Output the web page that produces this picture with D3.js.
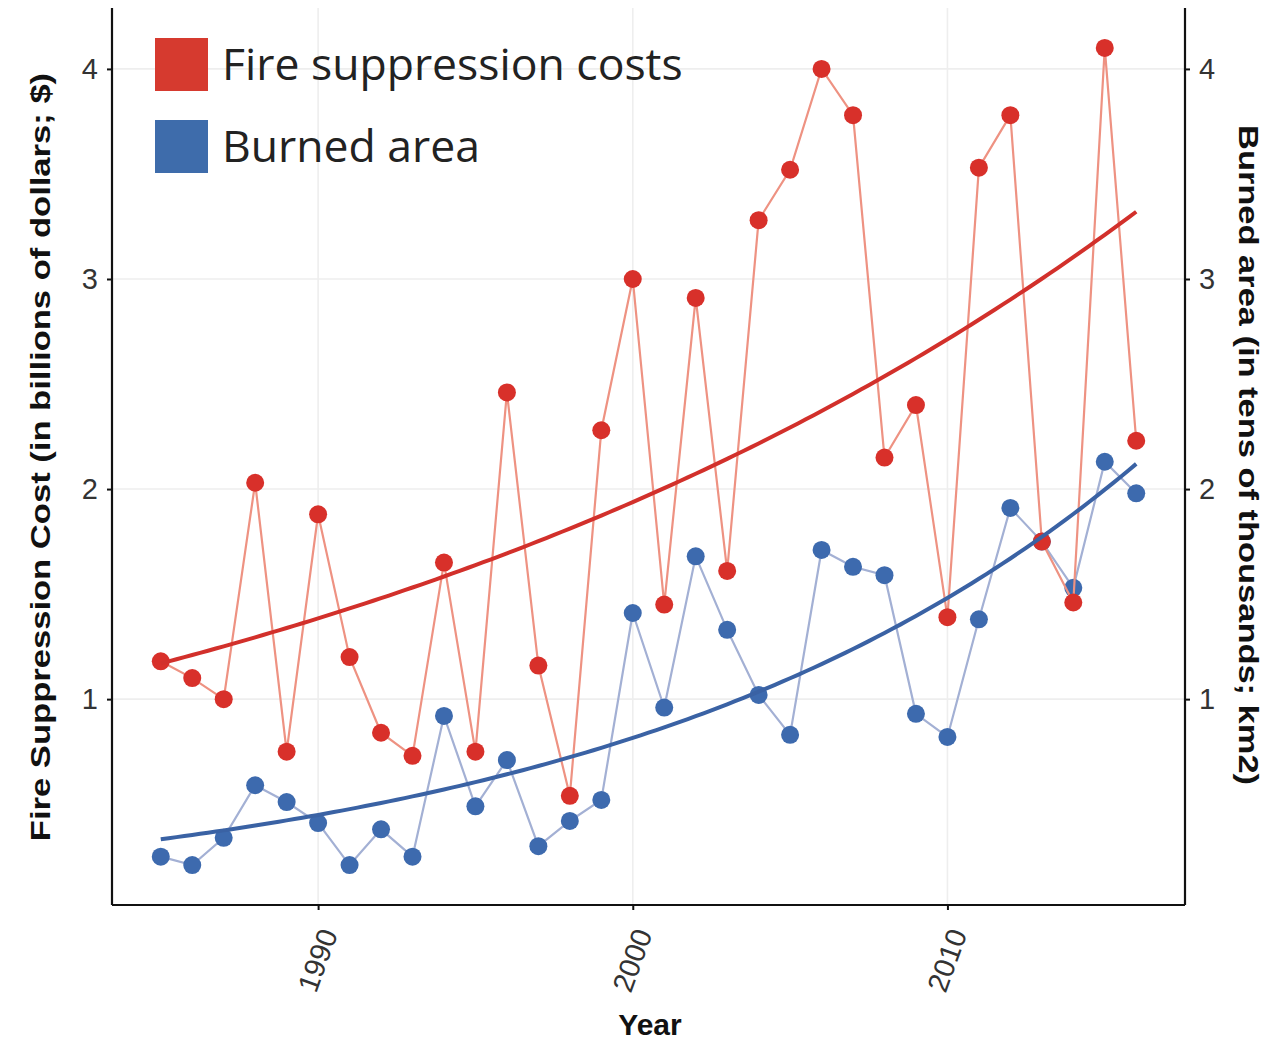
<!DOCTYPE html>
<html><head><meta charset="utf-8">
<script src="https://cdn.jsdelivr.net/npm/d3@7"></script>
<style>body{margin:0;background:#fff}svg{display:block}</style>
</head><body>
<script>
const years = [1985,1986,1987,1988,1989,1990,1991,1992,1993,1994,1995,1996,1997,1998,1999,2000,2001,2002,2003,2004,2005,2006,2007,2008,2009,2010,2011,2012,2013,2014,2015,2016];
const costs = [1.18,1.10,1.00,2.03,0.75,1.88,1.20,0.84,0.73,1.65,0.75,2.46,1.16,0.54,2.28,3.00,1.45,2.91,1.61,3.28,3.52,4.00,3.78,2.15,2.40,1.39,3.53,3.78,1.75,1.46,4.10,2.23];
const burned = [0.25,0.21,0.34,0.59,0.51,0.41,0.21,0.38,0.25,0.92,0.49,0.71,0.30,0.42,0.52,1.41,0.96,1.68,1.33,1.02,0.83,1.71,1.63,1.59,0.93,0.82,1.38,1.91,1.75,1.53,2.13,1.98];
// exponential trend fits: value at first and last year
const costTrend = [1.17, 3.32];
const burnedTrend = [0.333, 2.12];
const xTicks = [1990, 2000, 2010];
const yTicks = [1, 2, 3, 4];
const legendLabels = ["Fire suppression costs", "Burned area"];

const W = 1286, H = 1041;
const L = 112, R = 1185, T = 8, B = 905;
const svg = d3.select("body").append("svg").attr("width", W).attr("height", H);

const x = d3.scaleLinear().domain([1983.45, 2017.55]).range([L, R]);
const y = d3.scaleLinear().domain([0.02, 4.29]).range([B, T]);

// grid
svg.append("g").selectAll("line.h").data(yTicks).join("line")
  .attr("x1", L).attr("x2", R).attr("y1", d => y(d)).attr("y2", d => y(d))
  .attr("stroke", "#eeeeee").attr("stroke-width", 1.6);
svg.append("g").selectAll("line.v").data(xTicks).join("line")
  .attr("y1", T).attr("y2", B).attr("x1", d => x(d)).attr("x2", d => x(d))
  .attr("stroke", "#eeeeee").attr("stroke-width", 1.6);

function trend(v) {
  const y0 = years[0], y1 = years[years.length - 1];
  const k = Math.log(v[1] / v[0]) / (y1 - y0);
  const pts = [];
  for (let t = y0; t <= y1 + 1e-9; t += 0.25) pts.push([t, v[0] * Math.exp(k * (t - y0))]);
  return pts;
}
const line = d3.line().x(d => x(d[0])).y(d => y(d[1]));

const series = [
  {vals: burned, lc: "#a3b0d4", pc: "#3d6aae"},
  {vals: costs, lc: "#ee9282", pc: "#d8302a"}
];
series.forEach(s => {
  const data = years.map((yr, i) => [yr, s.vals[i]]);
  svg.append("path").datum(data).attr("d", line).attr("fill", "none")
    .attr("stroke", s.lc).attr("stroke-width", 2.2);
  svg.append("g").selectAll("circle").data(data).join("circle")
    .attr("cx", d => x(d[0])).attr("cy", d => y(d[1])).attr("r", 9).attr("fill", s.pc);
});

svg.append("path").datum(trend(costTrend)).attr("d", line).attr("fill", "none")
  .attr("stroke", "#d2302b").attr("stroke-width", 4);
svg.append("path").datum(trend(burnedTrend)).attr("d", line).attr("fill", "none")
  .attr("stroke", "#3a62a4").attr("stroke-width", 4);

// axes
const axisColor = "#111";
const gl = svg.append("g").attr("transform", `translate(${L},0)`)
  .call(d3.axisLeft(y).tickValues(yTicks).tickFormat(d3.format("d")).tickSize(5).tickPadding(9));
const gr = svg.append("g").attr("transform", `translate(${R},0)`)
  .call(d3.axisRight(y).tickValues(yTicks).tickFormat(d3.format("d")).tickSize(5).tickPadding(9));
const gb = svg.append("g").attr("transform", `translate(0,${B})`)
  .call(d3.axisBottom(x).tickValues(xTicks).tickFormat(d3.format("d")).tickSize(5).tickPadding(8));
[gl, gr, gb].forEach(g => {
  g.select(".domain").attr("stroke", axisColor).attr("stroke-width", 2.2);
  g.selectAll(".tick line").attr("stroke", axisColor).attr("stroke-width", 2);
  g.selectAll("text").attr("font-family", "Liberation Sans, Arial, sans-serif")
    .attr("font-size", 29).attr("fill", "#333");
});
gl.select(".domain").attr("d", `M0,${B}V${T}`);
gr.select(".domain").attr("d", `M0,${B}V${T}`);
gb.select(".domain").attr("d", `M${L},0H${R}`);
gb.selectAll("text").attr("text-anchor", "end").attr("dy", "0.35em")
  .attr("transform", "translate(10,25) rotate(-70)").attr("x", 0).attr("y", 0);

// titles
const tf = "Liberation Sans, Arial, sans-serif";
svg.append("text").attr("transform", `translate(50,457) rotate(-90) scale(1.235,1)`)
  .attr("text-anchor", "middle").attr("font-family", tf).attr("font-weight", "bold")
  .attr("font-size", 28).attr("fill", "#111")
  .text("Fire Suppression Cost (in billions of dollars; $)");
svg.append("text").attr("transform", `translate(1239,455) rotate(90) scale(1.23,1)`)
  .attr("text-anchor", "middle").attr("font-family", tf).attr("font-weight", "bold")
  .attr("font-size", 28).attr("fill", "#111")
  .text("Burned area (in tens of thousands; km2)");
svg.append("text").attr("x", 650).attr("y", 1035).attr("text-anchor", "middle")
  .attr("font-family", tf).attr("font-weight", "bold").attr("font-size", 30).attr("fill", "#111")
  .text("Year");

// legend
const legColors = ["#d63a2f", "#3e6cab"];
legendLabels.forEach((lab, i) => {
  const ly = 38 + i * 82;
  svg.append("rect").attr("x", 155).attr("y", ly).attr("width", 53).attr("height", 53)
    .attr("fill", legColors[i]);
  svg.append("text").attr("x", 222).attr("y", ly + 42)
    .attr("font-family", "Open Sans, Noto Sans, sans-serif").attr("font-size", 44.5)
    .attr("fill", "#222").text(lab);
});
</script>
</body></html>
